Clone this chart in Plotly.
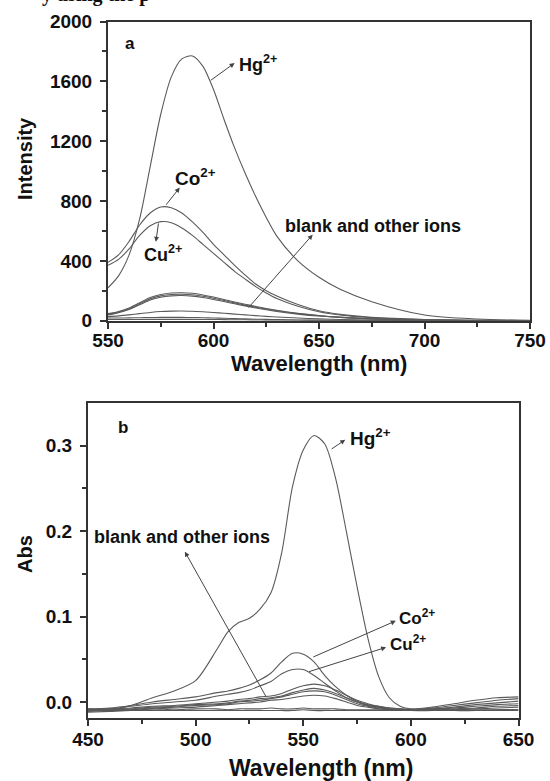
import plotly.graph_objects as go

W, H = 550, 781

# ---------------- Panel a: fluorescence ----------------
wl_a = [550, 555, 560, 565, 570, 575, 580, 585, 590, 595, 600, 605, 610, 615,
        620, 625, 630, 640, 650, 660, 675, 700, 725, 750]
hg_a = [220, 300, 440, 680, 1030, 1380, 1630, 1750, 1770, 1700, 1545, 1345, 1155, 985,
        830, 690, 565, 400, 290, 210, 127, 38, 11, 2]
co_a = [390, 440, 530, 640, 720, 760, 755, 720, 660, 590, 510, 440, 370, 305,
        245, 200, 165, 108, 66, 42, 22, 8, 3, 1]
cu_a = [370, 410, 480, 570, 635, 662, 655, 620, 570, 510, 450, 390, 330, 278,
        228, 185, 148, 97, 60, 38, 20, 7, 3, 1]
o1_a = [47, 62, 85, 120, 155, 175, 185, 187, 183, 172, 158, 142, 125, 110,
        95, 82, 70, 50, 35, 24, 13, 4, 1, 0]
o2_a = [42, 58, 80, 113, 146, 166, 175, 177, 173, 163, 150, 135, 119, 104,
        90, 78, 66, 47, 33, 22, 12, 4, 1, 0]
o3_a = [38, 54, 75, 106, 138, 157, 166, 168, 164, 155, 142, 128, 113, 99,
        85, 73, 62, 44, 31, 21, 11, 3, 1, 0]
o4_a = [27, 32, 39, 47, 55, 61, 64, 65, 63, 60, 55, 50, 44, 39,
        34, 29, 25, 18, 12, 8, 4, 1, 0, 0]
o5_a = [18, 18, 19, 20, 21, 22, 22, 22, 21, 20, 18, 16, 14, 12,
        10, 9, 8, 5, 3, 2, 1, 0, 0, 0]
o6_a = [8, 8, 8, 8, 9, 9, 9, 9, 9, 8, 8, 7, 6, 6,
        5, 4, 4, 3, 2, 1, 1, 0, 0, 0]

# ---------------- Panel b: absorbance ----------------
wl_b = [450, 460, 470, 480, 490, 500, 510, 515, 520, 525, 530, 535, 540, 545,
        550, 555, 560, 565, 570, 575, 580, 585, 590, 595, 600, 610, 620, 630, 640, 650]
hg_b = [-0.010, -0.009, -0.004, 0.005, 0.013, 0.025, 0.062, 0.082, 0.093, 0.098,
        0.109, 0.128, 0.175, 0.252, 0.295, 0.312, 0.302, 0.262, 0.200, 0.135,
        0.075, 0.030, 0.005, -0.005, -0.008, -0.006, -0.002, 0.002, 0.005, 0.006]
co_b = [-0.008, -0.007, -0.004, 0.000, 0.003, 0.006, 0.011, 0.013, 0.016, 0.020,
        0.026, 0.034, 0.047, 0.057, 0.056, 0.047, 0.031, 0.018, 0.008, 0.001,
        -0.003, -0.005, -0.007, -0.008, -0.009, -0.007, -0.004, -0.001, 0.002, 0.004]
cu_b = [-0.009, -0.008, -0.005, -0.002, 0.000, 0.002, 0.007, 0.009, 0.011, 0.014,
        0.019, 0.024, 0.033, 0.038, 0.038, 0.031, 0.022, 0.013, 0.005, 0.000,
        -0.004, -0.006, -0.008, -0.009, -0.009, -0.008, -0.006, -0.003, -0.001, 0.001]
o1_b = [-0.009, -0.008, -0.007, -0.005, -0.004, -0.002, 0.000, 0.001, 0.003, 0.004,
        0.006, 0.007, 0.010, 0.015, 0.019, 0.021, 0.019, 0.014, 0.008, 0.002,
        -0.002, -0.005, -0.007, -0.008, -0.009, -0.008, -0.007, -0.005, -0.003, -0.002]
o2_b = [-0.010, -0.009, -0.008, -0.006, -0.005, -0.003, -0.002, -0.001, 0.001, 0.002,
        0.004, 0.005, 0.007, 0.011, 0.014, 0.016, 0.014, 0.010, 0.005, 0.000,
        -0.004, -0.006, -0.008, -0.009, -0.009, -0.009, -0.008, -0.007, -0.005, -0.004]
o3_b = [-0.011, -0.010, -0.009, -0.007, -0.006, -0.004, -0.003, -0.002, 0.000, 0.001,
        0.002, 0.004, 0.006, 0.009, 0.012, 0.013, 0.012, 0.008, 0.003, -0.002,
        -0.005, -0.007, -0.008, -0.009, -0.009, -0.009, -0.009, -0.008, -0.007, -0.006]
o4_b = [-0.012, -0.011, -0.010, -0.008, -0.007, -0.006, -0.004, -0.003, -0.002, -0.001,
        0.000, 0.002, 0.003, 0.005, 0.007, 0.008, 0.007, 0.004, 0.000, -0.004,
        -0.006, -0.008, -0.009, -0.009, -0.010, -0.010, -0.010, -0.010, -0.009, -0.009]
bl1_b = [-0.008, -0.009, -0.009, -0.008, -0.009, -0.008, -0.008, -0.009, -0.008, -0.008,
         -0.008, -0.007, -0.008, -0.008, -0.007, -0.008, -0.008, -0.008, -0.009, -0.009,
         -0.009, -0.009, -0.009, -0.009, -0.009, -0.009, -0.009, -0.009, -0.009, -0.009]
bl2_b = [-0.010, -0.010, -0.010, -0.010, -0.010, -0.010, -0.010, -0.010, -0.010, -0.010,
         -0.010, -0.010, -0.010, -0.010, -0.009, -0.010, -0.010, -0.010, -0.010, -0.010,
         -0.010, -0.010, -0.010, -0.010, -0.010, -0.010, -0.010, -0.010, -0.010, -0.010]

LINE = dict(color="#5a5a5a", width=1.1, shape="spline", smoothing=0.8)
FONT = "Liberation Sans, Arial, sans-serif"

fig = go.Figure()
for ys in [o6_a, o5_a, o4_a, o3_a, o2_a, o1_a, cu_a, co_a, hg_a]:
    fig.add_trace(go.Scatter(x=wl_a, y=ys, mode="lines", line=LINE,
                             xaxis="x", yaxis="y", showlegend=False, hoverinfo="skip"))
for ys in [bl2_b, bl1_b, o4_b, o3_b, o2_b, o1_b, cu_b, co_b, hg_b]:
    fig.add_trace(go.Scatter(x=wl_b, y=ys, mode="lines", line=LINE,
                             xaxis="x2", yaxis="y2", showlegend=False, hoverinfo="skip"))


def px(x):
    return x / W


def py(y):
    return 1 - y / H


tickfont = dict(family=FONT, size=19, color="#111", weight="bold")
axis_common = dict(showline=True, linewidth=2, linecolor="#333", mirror=True,
                   ticks="outside", ticklen=6, tickwidth=1.5, tickcolor="#333",
                   showgrid=False, zeroline=False, tickfont=tickfont,
                   automargin=False)

fig.update_layout(
    width=W, height=H, margin=dict(l=0, r=0, t=0, b=0, pad=0),
    paper_bgcolor="white", plot_bgcolor="white",
    xaxis=dict(domain=[px(108), px(530)], anchor="y", range=[550, 750],
               tickvals=[550, 600, 650, 700, 750], ticklabelstandoff=-5,
               minor=dict(ticks="outside", dtick=25, ticklen=4, tickcolor="#333"),
               **axis_common),
    yaxis=dict(domain=[py(320.7), py(21.5)], anchor="x", range=[0, 2000],
               tickvals=[0, 400, 800, 1200, 1600, 2000], ticklabelstandoff=4,
               minor=dict(ticks="outside", dtick=200, ticklen=4, tickcolor="#333"),
               **axis_common),
    xaxis2=dict(domain=[px(88), px(518.5)], anchor="y2", range=[450, 650],
                tickvals=[450, 500, 550, 600, 650], ticklabelstandoff=-3,
                minor=dict(ticks="outside", dtick=25, ticklen=4, tickcolor="#333"),
                **axis_common),
    yaxis2=dict(domain=[py(718), py(403)], anchor="x2", range=[-0.0187, 0.35],
                tickvals=[0.0, 0.1, 0.2, 0.3], ticktext=["0.0", "0.1", "0.2", "0.3"],
                ticklabelstandoff=4,
                minor=dict(ticks="outside", tickvals=[0.05, 0.15, 0.25], ticklen=4, tickcolor="#333"),
                **axis_common),
)

ann = []
lab = dict(family=FONT, size=18, color="#111", weight="bold")


def text(x, y, t, xr="x", yr="y", size=18, xanchor="left"):
    ann.append(dict(x=x, y=y, xref=xr, yref=yr, text=t, showarrow=False,
                    font=dict(lab, size=size), xanchor=xanchor, yanchor="middle"))


def arrow(x, y, ax, ay, xr="x", yr="y"):
    ann.append(dict(x=x, y=y, ax=ax, ay=ay, xref=xr, yref=yr, axref=xr, ayref=yr,
                    text="", showarrow=True, arrowhead=2, arrowsize=1.0,
                    arrowwidth=1, arrowcolor="#444"))


# panel a labels
text(557, 1850, "a", size=17)
text(611, 1720, "Hg<sup>2+</sup>")
arrow(610, 1722, 598, 1600)
text(581, 960, "Co<sup>2+</sup>", size=19)
arrow(584, 890, 577, 765)
text(566, 452, "Cu<sup>2+</sup>")
arrow(572.7, 527, 574, 660)
text(633, 633, "blank and other ions", size=18)
arrow(647, 575, 616, 78)

# panel b labels
text(463, 0.321, "b", "x2", "y2", size=17)
text(571, 0.31, "Hg<sup>2+</sup>", "x2", "y2", size=19)
arrow(569.5, 0.307, 562.5, 0.295, "x2", "y2")
text(452, 0.193, "blank and other ions", "x2", "y2", size=18)
arrow(495, 0.176, 533, 0.005, "x2", "y2")
text(593.5, 0.10, "Co<sup>2+</sup>", "x2", "y2", size=17)
arrow(593, 0.095, 554, 0.052, "x2", "y2")
text(589.5, 0.069, "Cu<sup>2+</sup>", "x2", "y2", size=17)
arrow(588.5, 0.064, 552, 0.035, "x2", "y2")

# axis titles
title_font = dict(family=FONT, size=22, color="#111", weight="bold")
ann.append(dict(x=px(319), y=py(363), xref="paper", yref="paper", text="Wavelength (nm)",
                showarrow=False, font=title_font, xanchor="center", yanchor="middle"))
ann.append(dict(x=px(321), y=py(768), xref="paper", yref="paper", text="Wavelength (nm)",
                showarrow=False, font=dict(title_font, size=23), xanchor="center", yanchor="middle"))
ann.append(dict(x=px(25), y=py(159), xref="paper", yref="paper", text="Intensity",
                showarrow=False, font=dict(title_font, size=20), textangle=-90,
                xanchor="center", yanchor="middle"))
ann.append(dict(x=px(25), y=py(554), xref="paper", yref="paper", text="Abs",
                showarrow=False, font=dict(title_font, size=20), textangle=-90,
                xanchor="center", yanchor="middle"))
# cut-off caption fragment at the very top
ann.append(dict(x=px(40), y=py(-5), xref="paper", yref="paper", text="y using the p",
                showarrow=False, font=dict(family="Liberation Serif, serif", size=20,
                                           color="#111", weight="bold"),
                xanchor="left", yanchor="middle"))

fig.update_layout(annotations=ann)
fig.write_html("out.html", config={"displayModeBar": False},
               post_script="document.body.style.margin='0';document.body.style.padding='0';")
